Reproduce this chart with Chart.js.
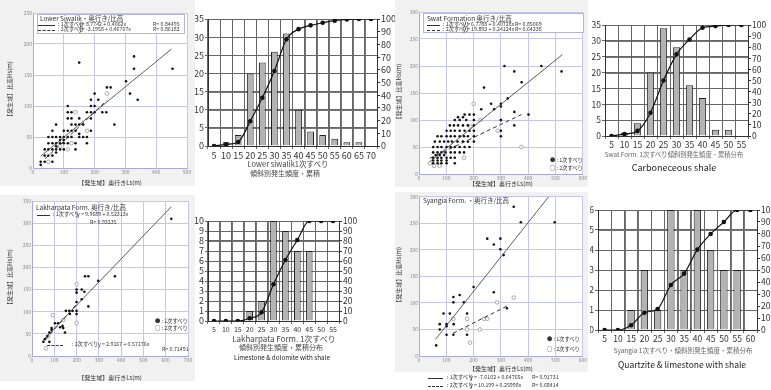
<!DOCTYPE html>
<html>
<head>
<meta charset="utf-8">
<script src="https://cdn.jsdelivr.net/npm/chart.js@4.4.1/dist/chart.umd.min.js"></script>
<style>
  body { margin:0; width:771px; height:390px; overflow:hidden; position:relative; background:#fff;
         font-family:"Noto Sans CJK JP", "Noto Sans", sans-serif; }
  canvas { position:absolute; display:block; z-index:1; }
  canvas.gray { background:#f1f1f1; }
  .t { position:absolute; white-space:nowrap; line-height:1; color:#333; z-index:2; }
  .c { text-align:center; width:200px; }
  .g { position:absolute; background:#777; z-index:0; }
</style>
</head>
<body>
<canvas id="h1" width="202" height="161" style="left:195px;top:0"></canvas>
<canvas id="h2" width="183" height="137" style="left:588px;top:15px"></canvas>
<canvas id="h3" width="170" height="125" style="left:195px;top:211px"></canvas>
<canvas id="h4" width="190" height="145" style="left:590px;top:200px"></canvas>
<canvas id="sc1" class="gray" width="195" height="186" style="left:0;top:0"></canvas>
<canvas id="sc2" class="gray" width="193" height="187" style="left:395px;top:0"></canvas>
<canvas id="sc3" class="gray" width="195" height="186" style="left:0;top:195px"></canvas>
<canvas id="sc4" class="gray" width="193" height="180" style="left:395px;top:192px"></canvas>
<script>
// ---- Lower Siwalik: Ls / Hs (m) ----
const siwalik1 = [[150,170],[328,180],[328,160],[453,160],[302,140],[315,120],[340,110],[240,130],[252,130],
  [200,120],[212,110],[188,110],[188,100],[200,100],[225,90],[238,90],[264,70],[200,90],[113,100],[113,90],
  [125,90],[175,90],[188,90],[113,80],[125,80],[150,80],[75,70],[125,70],[138,70],[150,70],[163,70],[188,80],
  [188,60],[150,50],[163,50],[175,50],[175,40],[138,30],[138,40],[63,60],[50,50],[63,50],[75,50],[88,50],
  [100,50],[50,40],[63,40],[75,40],[88,40],[100,40],[38,30],[50,30],[63,30],[75,30],[88,30],[100,30],[113,40],
  [125,60],[138,60],[100,60],[113,60],[38,20],[50,20],[63,20],[75,25],[25,10],[38,10],[63,10],[25,5],[88,45],
  [75,35],[150,55],[125,50],[113,50],[100,45]];
const siwalik2 = [[240,120],[138,90],[175,60],[125,40],[113,30],[50,10],[88,35]];
const siwalikFit1 = [[25,19],[450,192]];
const siwalikFit2 = [[40,15],[240,109]];

// ---- Swat Formation ----
const swat1 = [[313,200],[448,200],[522,190],[349,190],[376,170],[238,160],[325,140],[300,130],[300,125],
  [264,130],[275,120],[228,120],[349,115],[401,110],[300,100],[300,100],[349,90],[300,80],[300,70],[201,110],
  [167,110],[185,110],[143,105],[161,105],[131,100],[149,100],[173,100],[201,100],
  [113,90],[128,90],[143,90],[161,90],[179,90],[201,90],
  [101,80],[116,80],[131,80],[149,80],[167,80],[185,80],[201,80],
  [68,70],[82,70],[101,70],[116,70],[131,70],[149,70],[165,70],[179,70],[201,70],
  [58,60],[76,60],[92,60],[107,60],[121,60],[141,60],[161,60],[179,60],[201,60],
  [52,50],[68,50],[82,50],[101,50],[116,50],[131,50],[149,50],[167,50],[185,50],
  [52,40],[68,40],[82,40],[97,40],[116,40],[131,40],[149,40],[165,40],
  [61,35],[76,35],[92,35],[52,30],[68,30],[82,30],[101,30],[116,30],[131,30],
  [52,25],[68,25],[82,25],[101,25],[52,20],[68,20],[82,20],[101,20],[131,20]];
const swat2 = [[200,130],[225,100],[188,88],[288,80],[375,50],[165,30],[40,20],[55,15],[75,15]];
const swatFit1 = [[40,23],[525,221]];
const swatFit2 = [[40,29],[375,110]];

// ---- Lakharpata Form. ----
const lakh1 = [[625,310],[238,180],[253,180],[372,180],[297,170],[200,150],[200,143],[223,150],[235,145],
  [223,128],[200,122],[253,112],[200,102],[200,95],[152,102],[167,102],[182,102],[170,95],[103,74],[117,74],
  [137,68],[126,65],[140,63],[88,63],[148,53],[78,53],[88,59],[69,45],[58,38],[51,32],[78,32]];
const lakh2 = [[200,162],[93,92],[200,75],[140,81],[73,44],[63,17]];
const lakhFit1 = [[50,36],[625,337]];
const lakhFit2 = [[60,37],[200,117]];

// ---- Syangia Form. ----
const syangia1 = [[347,281],[373,252],[497,252],[250,221],[298,221],[274,210],[298,201],[310,190],[200,130],
  [274,120],[149,115],[126,111],[126,101],[164,101],[322,90],[90,80],[113,80],[176,80],[76,60],[101,60],
  [127,60],[76,50],[101,56],[101,40],[126,40],[176,40],[63,20]];
const syangia2 = [[347,110],[286,101],[126,70],[176,70],[238,70],[250,70],[176,50],[223,50],[187,25]];
const syangiaFit1 = [[60,31],[475,300]];
const syangiaFit2 = [[125,43],[330,96]];

// ---- slope histograms: count (left) and cumulative % (right) ----
const siwalikSlope = ['5','10','15','20','25','30','35','40','45','50','55','60','65','70'];
const siwalikCount = [0,1,3,20,23,26,31,10,4,3,2,1,1,0];
const siwalikCum = [0,1.3,3.2,19.5,38,59,84,92,95,97,98.7,99.7,100,100];

const swatSlope = ['5','10','15','20','25','30','35','40','45','50','55'];
const swatCount = [0,1,4,20,34,28,16,12,2,2,0];
const swatCum = [0,1.7,4.6,21,50,73.5,87,97.5,99,100,100];

const lakhSlope = ['5','10','15','20','25','30','35','40','45','50','55'];
const lakhCount = [0,0,0,1,2,10,9,7,7,0,0];
const lakhCum = [0,0,0,2.7,8.7,36.7,61,81,100,100,100];

const syangiaSlope = ['5','10','15','20','25','30','35','40','45','50','55','60'];
const syangiaCount = [0,0,1,3,1,6,3,6,4,3,3,0];
const syangiaCum = [0,0,4,14.4,17.5,37.5,47,67,80,90,100,100];

Chart.defaults.font.family = '"Noto Sans CJK JP", "Noto Sans", sans-serif';

function toXY(arr) { return arr.map(p => ({ x: p[0], y: p[1] })); }
function fixW(w) { return s => { s.width = w; }; }
function fixH(h) { return s => { s.height = h; }; }

// white plot area on gray panel
const whitePlot = {
  id: 'whitePlot',
  beforeDraw(chart) {
    const a = chart.chartArea, c = chart.ctx;
    c.save();
    c.fillStyle = '#fff';
    c.fillRect(a.left, a.top, a.width, a.height);
    c.restore();
  }
};

function scatterChart(id, o) {
  const tickFont = { size: 5 };
  new Chart(document.getElementById(id), {
    type: 'scatter',
    data: {
      datasets: [
        { data: toXY(o.fit1), showLine: true, borderColor: '#333', borderWidth: 0.8, pointRadius: 0 },
        { data: toXY(o.fit2), showLine: true, borderColor: '#333', borderWidth: 1, borderDash: [4, 3], pointRadius: 0 },
        { data: toXY(o.pts1), pointRadius: 1.3, backgroundColor: '#111', borderWidth: 0 },
        { data: toXY(o.pts2), pointRadius: 1.8, backgroundColor: '#fff', borderColor: '#888', borderWidth: 0.7 }
      ]
    },
    options: {
      responsive: false,
      animation: false,
      layout: { padding: { top: o.pad[0], right: o.pad[1], left: o.pad[2], bottom: 0 } },
      plugins: { legend: { display: false }, tooltip: { enabled: false } },
      scales: {
        x: {
          min: 0, max: o.xMax,
          ticks: { stepSize: 100, font: tickFont, color: '#888', padding: 1, maxRotation: 0 },
          grid: { color: '#c6c6ec', tickLength: 0 },
          border: { color: '#a8a8dc' },
          title: { display: true, text: '【発生域】奥行きLs(m)', font: { size: 6 }, color: '#333', padding: 0 },
          afterFit: fixH(o.xh)
        },
        y: {
          min: 0, max: o.yMax,
          ticks: { stepSize: 50, font: tickFont, color: '#888', padding: 1 },
          grid: { color: '#c6c6ec', tickLength: 0 },
          border: { color: '#a8a8dc' },
          title: { display: true, text: '【発生域】比高Hs(m)', font: { size: 6 }, color: '#333', padding: 0 },
          afterFit: fixW(o.yw)
        }
      }
    },
    plugins: [whitePlot]
  });
}

function histChart(id, o) {
  return new Chart(document.getElementById(id), {
    type: 'bar',
    data: {
      labels: o.labels,
      datasets: [
        { type: 'line', data: o.cum, yAxisID: 'y1', borderColor: '#111', borderWidth: 1.2,
          pointRadius: 2.3, pointBackgroundColor: '#111', pointBorderWidth: 0,
          cubicInterpolationMode: 'monotone', order: 0 },
        { type: 'bar', data: o.count, yAxisID: 'y', backgroundColor: '#b3b3b3', borderColor: '#222',
          borderWidth: 1, barPercentage: 0.56, categoryPercentage: 1, order: 1 }
      ]
    },
    options: {
      responsive: false,
      animation: false,
      layout: { padding: { top: o.pad, left: 0, right: 0, bottom: 0 } },
      plugins: { legend: { display: false }, tooltip: { enabled: false } },
      scales: {
        x: {
          grid: { color: '#666', tickLength: 3 },
          border: { color: '#333' },
          ticks: { font: { size: o.xfs }, color: '#333', padding: 1, maxRotation: 0, autoSkip: false },
          afterFit: fixH(o.xh)
        },
        y: {
          position: 'left', min: 0, max: o.yMax,
          ticks: { stepSize: o.yStep, font: { size: o.yfs }, color: '#333', padding: 1, autoSkip: false },
          grid: { color: '#666', tickLength: 3 },
          border: { color: '#333' },
          afterFit: fixW(o.yw)
        },
        y1: {
          position: 'right', min: 0, max: 100,
          ticks: { stepSize: 10, font: { size: o.rfs }, color: '#333', padding: 1, autoSkip: false },
          grid: { drawOnChartArea: false, tickLength: 3, color: '#333' },
          border: { color: '#333' },
          afterFit: fixW(o.rw)
        }
      }
    }
  });
}

// grid lines behind a histogram canvas, placed from its scales
function gridBehind(chart) {
  const cv = chart.canvas, L = cv.offsetLeft, T = cv.offsetTop, a = chart.chartArea;
  const sx = chart.scales.x, sy = chart.scales.y;
  function line(x, y, w, h) {
    const d = document.createElement('div');
    d.className = 'g';
    d.style.left = x + 'px'; d.style.top = y + 'px';
    d.style.width = w + 'px'; d.style.height = h + 'px';
    document.body.appendChild(d);
  }
  sy.ticks.forEach(t => {
    line(L + a.left, T + Math.round(sy.getPixelForValue(t.value)), Math.round(a.right - a.left), 1);
  });
  const half = (sx.getPixelForValue(1) - sx.getPixelForValue(0)) / 2;
  for (let i = 0; i <= sx.ticks.length; i++) {
    line(L + Math.round(sx.getPixelForValue(i) - half), T + a.top, 1, Math.round(a.bottom - a.top));
  }
}

gridBehind(histChart('h1', { labels: siwalikSlope, count: siwalikCount, cum: siwalikCum, yMax: 35, yStep: 5,
  pad: 19, yw: 13, rw: 20, xh: 15, xfs: 9, yfs: 9, rfs: 9 }));
gridBehind(histChart('h2', { labels: swatSlope, count: swatCount, cum: swatCum, yMax: 35, yStep: 5,
  pad: 10, yw: 17, rw: 23, xh: 16, xfs: 8.5, yfs: 8.5, rfs: 8.5 }));
gridBehind(histChart('h3', { labels: lakhSlope, count: lakhCount, cum: lakhCum, yMax: 10, yStep: 1,
  pad: 10, yw: 13, rw: 26, xh: 15, xfs: 7, yfs: 9, rfs: 8.5 }));
gridBehind(histChart('h4', { labels: syangiaSlope, count: syangiaCount, cum: syangiaCum, yMax: 6, yStep: 1,
  pad: 10, yw: 8, rw: 23, xh: 15, xfs: 8.5, yfs: 8.5, rfs: 8.5 }));

scatterChart('sc1', { pts1: siwalik1, pts2: siwalik2, fit1: siwalikFit1, fit2: siwalikFit2,
  xMax: 500, yMax: 250, pad: [13, 8, 6], yw: 27, xh: 18 });
scatterChart('sc2', { pts1: swat1, pts2: swat2, fit1: swatFit1, fit2: swatFit2,
  xMax: 600, yMax: 300, pad: [12, 4, 0], yw: 24, xh: 13 });
scatterChart('sc3', { pts1: lakh1, pts2: lakh2, fit1: lakhFit1, fit2: lakhFit2,
  xMax: 700, yMax: 350, pad: [6, 7, 6], yw: 26, xh: 25 });
scatterChart('sc4', { pts1: syangia1, pts2: syangia2, fit1: syangiaFit1, fit2: syangiaFit2,
  xMax: 600, yMax: 300, pad: [2, 4, 0], yw: 24, xh: 16 });

// ---- overlay texts ----
function label(x, y, text, size, color, center) {
  const d = document.createElement('div');
  d.className = center ? 't c' : 't';
  d.textContent = text;
  d.style.left = (center ? x - 100 : x) + 'px';
  d.style.top = (y - size / 2) + 'px';
  d.style.fontSize = size + 'px';
  if (color) d.style.color = color;
  document.body.appendChild(d);
}
function sample(x, y, w, dashed) {
  const d = document.createElement('div');
  d.style.cssText = 'position:absolute;z-index:2;left:' + x + 'px;top:' + y + 'px;width:' + w +
    'px;border-top:1px ' + (dashed ? 'dashed' : 'solid') + ' #333;';
  document.body.appendChild(d);
}
function whiteBox(x, y, w, h) {
  const d = document.createElement('div');
  d.style.cssText = 'position:absolute;z-index:2;left:' + x + 'px;top:' + y + 'px;width:' + w + 'px;height:' + h +
    'px;background:#fff;border:1px solid #b4b4e0;box-sizing:border-box;';
  document.body.appendChild(d);
}

// Lower Siwalik
whiteBox(37, 14, 148, 20);
label(40, 18.5, 'Lower Siwalik・奥行き/比高', 6.5);
sample(38, 25, 17, false);
label(58, 25, ': 1次すべり', 5.3);
label(79, 25, 'y= 8.7742 + 0.4062x', 5.3);
label(153, 25, 'R= 0.84495', 5.3);
sample(38, 29.5, 17, true);
label(58, 29.5, ': 2次すべり', 5.3);
label(79, 29.5, 'y= -3.1958 + 0.46707x', 5.3);
label(153, 29.5, 'R= 0.86182', 5.3);

// Swat Formation
whiteBox(423, 13, 161, 20);
label(427, 18, 'Swat Formation 奥行き/比高', 6.5);
sample(427, 25, 13, false);
label(443, 25, ': 1次すべり', 5.3);
label(463, 25, 'y = 6.7788 + 0.40728x', 5.3);
label(515, 25, 'R= 0.85069', 5.3);
sample(427, 30, 13, true);
label(443, 30, ': 2次すべり', 5.3);
label(463, 30, 'y = 19.893 + 0.24124x', 5.3);
label(515, 30, 'R= 0.64338', 5.3);
label(550, 161, '● : 1次すべり', 5.3);
label(550, 169, '○ : 2次すべり', 5.3);

// Lakharpata
label(36, 207.5, 'Lakharpata Form. 奥行き/比高', 6.5);
sample(37, 215, 13, false);
label(53, 215, ': 1次すべり', 5.3);
label(77, 215, 'y = 9.9689 + 0.52313x', 5.3);
label(90, 223, 'R= 0.93235', 5.3);
label(155, 321.5, '● : 1次すべり', 5.3);
label(155, 329, '○ : 2次すべり', 5.3);
sample(47, 344.5, 16, true);
label(72, 344.5, ': 2次すべり', 5.3);
label(98, 344.5, 'y = 2.9167 + 0.57176x', 5.3);
label(162, 350, 'R= 0.71491', 5.3);

// Syangia
label(423, 200, 'Syangia Form. ・奥行き/比高', 6.5);
label(547, 339.5, '● : 1次すべり', 5.3);
label(547, 350, '○ : 2次すべり', 5.3);
sample(428, 377.5, 15, false);
label(447, 377.5, ': 1次すべり', 5.3);
label(470, 377.5, 'y = -7.6102 + 0.64765x', 5.3);
label(532, 377.5, 'R= 0.91731', 5.3);
sample(428, 385.5, 15, true);
label(447, 385.5, ': 2次すべり', 5.3);
label(470, 385.5, 'y = 10.199 + 0.25998x', 5.3);
label(532, 385.5, 'R= 0.68414', 5.3);

// histogram captions
label(288, 164, 'Lower siwalik1次すべり', 7.5, '#444', true);
label(285, 173, '傾斜別発生頻度・累積', 7, '#444', true);
label(674, 155.5, 'Swat Form. 1次すべり傾斜別発生頻度・累積分布', 6.3, '#666', true);
label(674, 167, 'Carboneceous shale', 9, '#222', true);
label(284, 338.5, 'Lakharpata Form. 1次すべり', 8, '#444', true);
label(281, 347, '傾斜別発生頻度・累積分布', 7, '#444', true);
label(282, 358.5, 'Limestone & dolomite with shale', 6.3, '#222', true);
label(683, 350, 'Syangia 1次すべり・傾斜別発生頻度・累積分布', 6.5, '#666', true);
label(682, 364, 'Quartzite & limestone with shale', 8.5, '#222', true);
</script>
</body>
</html>
